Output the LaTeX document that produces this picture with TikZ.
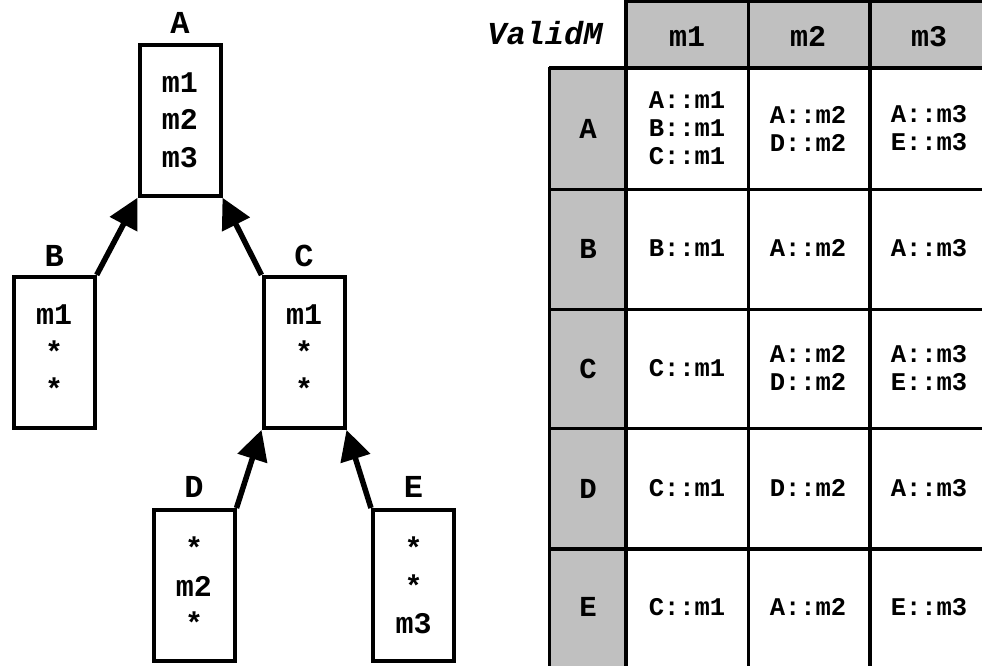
\documentclass[tikz,border=0pt]{standalone}
\usepackage{fontspec}
\newfontfamily\cour{Liberation Mono}
\usetikzlibrary{arrows.meta}
\definecolor{cellgray}{RGB}{192,192,192}
\begin{document}
\begin{tikzpicture}[x=1pt,y=-1pt,
  box/.style={draw,line width=4pt,minimum width=81pt,minimum height=151pt,inner sep=0pt,align=center,
    font=\cour\bfseries\fontsize{30}{37.5}\selectfont},
  lbl/.style={inner sep=0pt,font=\cour\bfseries\fontsize{32}{32}\selectfont},
  arr/.style={line width=5.5pt,-{Triangle[length=30pt,width=30pt]}},
  gridline/.style={line width=3.6pt},
  head/.style={inner sep=0pt,font=\cour\bfseries\fontsize{30}{30}\selectfont},
  rowlbl/.style={inner sep=0pt,font=\cour\bfseries\fontsize{29}{29}\selectfont},
  cell/.style={inner sep=0pt,align=center,execute at begin node=\vphantom{1},
    font=\cour\bfseries\fontsize{25.5}{28}\selectfont}
]
\clip (0,0) rectangle (982,665);
% tree
\node[box] (A) at (180,120.2) {m1\\m2\\m3};
\node[box] (B) at (54.2,352.4) {m1\\*\\*};
\node[box] (C) at (304,352.4) {m1\\*\\*};
\node[box] (D) at (194,585.5) {*\\m2\\*};
\node[box] (E) at (413.5,585.5) {*\\*\\m3};
\node[lbl] (lA) at ([yshift=19.5pt]A.north) {A};
\node[lbl] (lB) at ([yshift=19pt]B.north) {B};
\node[lbl] (lC) at ([yshift=19pt]C.north) {C};
\node[lbl] (lD) at ([yshift=21pt]D.north) {D};
\node[lbl] (lE) at ([yshift=21pt]E.north) {E};
\draw[arr] (B.north east) -- (A.south west);
\draw[arr] (C.north west) -- (A.south east);
\draw[arr] (D.north east) -- (C.south west);
\draw[arr] (E.north west) -- (C.south east);
% table
\fill[cellgray] (625.7,0) rectangle (990,68);
\fill[cellgray] (549.3,68) rectangle (625.7,670);
\draw[gridline] (625.7,1.5) -- (990,1.5);
\foreach \yy in {68,189.3,309.3,428.3,549} {\draw[gridline] (549.3,\yy) -- (990,\yy);}
\draw[gridline] (549.3,66.5) -- (549.3,670);
\foreach \xx in {625.7,748.3,870} {\draw[gridline] (\xx,0) -- (\xx,670);}
\node[inner sep=0pt,font=\cour\bfseries\itshape\fontsize{32}{32}\selectfont] (title) at (545,33) {ValidM};
\node[head] (h1) at (687,36.5) {m1};
\node[head] (h2) at (808,36.5) {m2};
\node[head] (h3) at (929,36.5) {m3};
\node[rowlbl] (rA) at (588,128.5) {A};
\node[rowlbl] (rB) at (588,249) {B};
\node[rowlbl] (rC) at (588,369) {C};
\node[rowlbl] (rD) at (588,488.5) {D};
\node[rowlbl] (rE) at (588,607) {E};
\node[cell] (cA1) at (687,128.5) {A::m1\\B::m1\\C::m1};
\node[cell] (cA2) at (808,128.5) {A::m2\\D::m2};
\node[cell] (cA3) at (929,128.5) {A::m3\\E::m3};
\node[cell] (cB1) at (687,248) {B::m1};
\node[cell] (cB2) at (808,248) {A::m2};
\node[cell] (cB3) at (929,248) {A::m3};
\node[cell] (cC1) at (687,368) {C::m1};
\node[cell] (cC2) at (808,368) {A::m2\\D::m2};
\node[cell] (cC3) at (929,368) {A::m3\\E::m3};
\node[cell] (cD1) at (687,488) {C::m1};
\node[cell] (cD2) at (808,488) {D::m2};
\node[cell] (cD3) at (929,488) {A::m3};
\node[cell] (cE1) at (687,607) {C::m1};
\node[cell] (cE2) at (808,607) {A::m2};
\node[cell] (cE3) at (929,607) {E::m3};
\end{tikzpicture}
\end{document}
